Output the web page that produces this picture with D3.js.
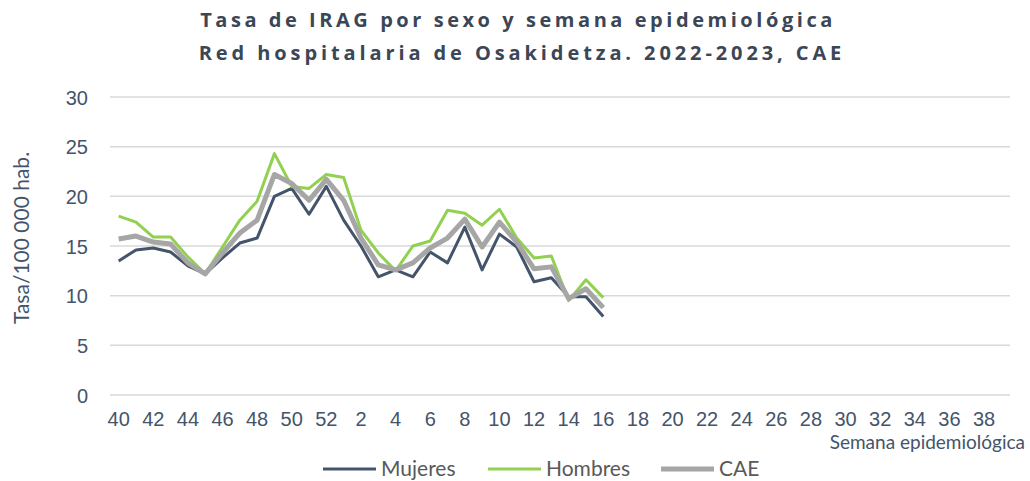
<!DOCTYPE html>
<html>
<head>
<meta charset="utf-8">
<script src="https://cdnjs.cloudflare.com/ajax/libs/d3/7.8.5/d3.min.js"></script>
<style>
  body { margin: 0; background: #fff; }
  svg { font-family: Lato, "Open Sans", sans-serif; }
  .grid line { stroke: #d9d9d9; stroke-width: 1.5; }
  .tick text { fill: #44546a; font-size: 20px; }
</style>
</head>
<body>
<svg width="1030" height="481"></svg>
<script>
// weeks 40..52 of 2022, then 1..39 of 2023
var weeks = d3.range(40, 53).concat(d3.range(1, 40));
var yTicks = [0, 5, 10, 15, 20, 25, 30];

var mujeres = [13.5, 14.6, 14.8, 14.4, 13.0, 12.2, 13.8, 15.3, 15.8, 20.0, 20.8, 18.2, 21.0, 17.6, 15.0, 11.9, 12.6, 11.9, 14.4, 13.3, 16.9, 12.6, 16.2, 14.9, 11.4, 11.8, 9.9, 9.9, 7.9];
var hombres = [18.0, 17.4, 15.9, 15.9, 13.9, 12.2, 14.9, 17.6, 19.5, 24.3, 21.0, 20.8, 22.2, 21.9, 16.6, 14.3, 12.5, 15.0, 15.5, 18.6, 18.3, 17.1, 18.7, 15.8, 13.8, 14.0, 9.5, 11.6, 9.8];
var cae = [15.7, 16.0, 15.4, 15.2, 13.3, 12.2, 14.3, 16.3, 17.6, 22.2, 21.3, 19.6, 21.7, 19.6, 15.8, 13.1, 12.6, 13.3, 14.8, 15.8, 17.7, 14.9, 17.4, 15.4, 12.7, 12.9, 9.7, 10.7, 8.8];

var series = [
  {name: "Mujeres", values: mujeres, color: "#44546a", width: 3},
  {name: "Hombres", values: hombres, color: "#92d050", width: 3},
  {name: "CAE", values: cae, color: "#a6a6a6", width: 5}
];

var svg = d3.select("svg");
var pArea = [110, 97, 1010, 395];

var xScale = d3.scaleBand()
  .domain(weeks.map((w, i) => i))
  .range([pArea[0], pArea[2]]);

var yScale = d3.scaleLinear()
  .domain([0, 30])
  .range([pArea[3], pArea[1]]);

// title
var title = svg.append("text")
  .attr("text-anchor", "middle")
  .style("font-family", "'Open Sans', sans-serif")
  .style("font-weight", "bold")
  .style("font-size", "20px")
  .attr("fill", "#3b4656");
title.append("tspan").attr("x", 518).attr("y", 27)
  .style("letter-spacing", "3.55px")
  .text("Tasa de IRAG por sexo y semana epidemiológica");
title.append("tspan").attr("x", 522).attr("y", 60)
  .style("letter-spacing", "3.9px")
  .text("Red hospitalaria de Osakidetza. 2022-2023, CAE");

// grid lines
svg.append("g")
  .attr("class", "grid")
  .selectAll("line")
  .data(yTicks)
  .join("line")
  .attr("x1", pArea[0])
  .attr("x2", pArea[2])
  .attr("y1", d => yScale(d))
  .attr("y2", d => yScale(d));

// y-axis
svg.append("g")
  .attr("transform", "translate(" + (pArea[0] - 22) + ",0)")
  .call(d3.axisLeft(yScale).tickValues(yTicks).tickSize(0))
  .call(g => g.select(".domain").remove())
  .call(g => g.selectAll("text").attr("x", 0).attr("dy", "0.35em"));

// x-axis
svg.append("g")
  .attr("transform", "translate(0," + pArea[3] + ")")
  .call(d3.axisBottom(xScale)
    .tickValues(weeks.map((w, i) => i).filter(i => weeks[i] % 2 === 0))
    .tickFormat(i => weeks[i])
    .tickSize(0))
  .call(g => g.select(".domain").remove())
  .call(g => g.selectAll("text").attr("y", 17));

// axis titles
svg.append("text")
  .attr("transform", "rotate(-90)")
  .attr("x", -238)
  .attr("y", 29)
  .attr("text-anchor", "middle")
  .style("font-size", "21px")
  .attr("fill", "#44546a")
  .text("Tasa/100 000 hab.");

svg.append("text")
  .attr("x", 1025)
  .attr("y", 449)
  .attr("text-anchor", "end")
  .style("font-size", "19px")
  .attr("fill", "#44546a")
  .text("Semana epidemiológica");

// lines
var line = d3.line()
  .x((d, i) => xScale(i) + xScale.bandwidth() / 2)
  .y(d => yScale(d));

svg.append("g")
  .selectAll("path")
  .data(series)
  .join("path")
  .attr("fill", "none")
  .attr("stroke", d => d.color)
  .attr("stroke-width", d => d.width)
  .attr("stroke-linejoin", "round")
  .attr("d", d => line(d.values));

// legend
var legendX = [323, 488, 661];
var legend = svg.append("g")
  .selectAll("g")
  .data(series)
  .join("g")
  .attr("transform", (d, i) => "translate(" + legendX[i] + ",469)");
legend.append("line")
  .attr("x1", 0).attr("x2", 53)
  .attr("stroke", d => d.color)
  .attr("stroke-width", d => d.width);
legend.append("text")
  .attr("x", 58)
  .attr("dy", "0.35em")
  .style("font-size", "21px")
  .attr("fill", "#595959")
  .text(d => d.name);
</script>
</body>
</html>
